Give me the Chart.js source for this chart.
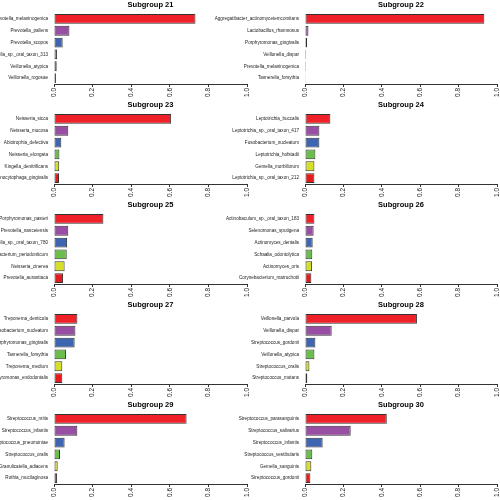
<!DOCTYPE html>
<html>
<head>
<meta charset="utf-8">
<script src="https://cdn.jsdelivr.net/npm/chart.js@4/dist/chart.umd.min.js"></script>
<style>
body{margin:0;background:#fff;}
#grid{position:relative;width:500px;height:500px;overflow:hidden;}
.panel{position:absolute;height:100px;}
</style>
</head>
<body>
<div id="grid"></div>
<script>
// subgroup ids, one panel each
const subgroups = [21,22,23,24,25,26,27,28,29,30];

// top taxa per subgroup (top to bottom) and their relative abundance
const taxa21 = ["Prevotella_melaninogenica","Prevotella_pallens","Prevotella_scopos","Veillonella_sp._oral_taxon_313","Veillonella_atypica","Veillonella_rogosae"];
const abund21 = [0.733,0.080,0.045,0.016,0.014,0.010];

const taxa22 = ["Aggregatibacter_actinomycetemcomitans","Lactobacillus_rhamnosus","Porphyromonas_gingivalis","Veillonella_dispar","Prevotella_melaninogenica","Tannerella_forsythia"];
const abund22 = [0.934,0.018,0.011,0.006,0.005,0.004];

const taxa23 = ["Neisseria_sicca","Neisseria_mucosa","Abiotrophia_defectiva","Neisseria_elongata","Kingella_denitrificans","Capnocytophaga_gingivalis"];
const abund23 = [0.607,0.074,0.038,0.028,0.027,0.026];

const taxa24 = ["Leptotrichia_buccalis","Leptotrichia_sp._oral_taxon_417","Fusobacterium_nucleatum","Leptotrichia_hofstadii","Gemella_morbillorum","Leptotrichia_sp._oral_taxon_212"];
const abund24 = [0.132,0.075,0.075,0.054,0.049,0.049];

const taxa25 = ["Porphyromonas_pasteri","Prevotella_nanceiensis","Prevotella_sp._oral_taxon_780","Fusobacterium_periodonticum","Neisseria_cinerea","Prevotella_aurantiaca"];
const abund25 = [0.256,0.074,0.068,0.066,0.055,0.047];

const taxa26 = ["Actinobaculum_sp._oral_taxon_183","Selenomonas_sputigena","Actinomyces_dentalis","Schaalia_odontolytica","Actinomyces_oris","Corynebacterium_matruchotii"];
const abund26 = [0.049,0.045,0.040,0.038,0.037,0.033];

const taxa27 = ["Treponema_denticola","Fusobacterium_nucleatum","Porphyromonas_gingivalis","Tannerella_forsythia","Treponema_medium","Porphyromonas_endodontalis"];
const abund27 = [0.121,0.111,0.107,0.062,0.043,0.043];

const taxa28 = ["Veillonella_parvula","Veillonella_dispar","Streptococcus_gordonii","Veillonella_atypica","Streptococcus_oralis","Streptococcus_mutans"];
const abund28 = [0.583,0.139,0.054,0.049,0.023,0.012];

const taxa29 = ["Streptococcus_mitis","Streptococcus_infantis","Streptococcus_pneumoniae","Streptococcus_oralis","Granulicatella_adiacens","Rothia_mucilaginosa"];
const abund29 = [0.687,0.121,0.055,0.031,0.019,0.016];

const taxa30 = ["Streptococcus_parasanguinis","Streptococcus_salivarius","Streptococcus_infantis","Streptococcus_vestibularis","Gemella_sanguinis","Streptococcus_gordonii"];
const abund30 = [0.426,0.238,0.092,0.038,0.033,0.028];

const xTicks = [0,0.2,0.4,0.6,0.8,1.0];

const allTaxa = [taxa21,taxa22,taxa23,taxa24,taxa25,taxa26,taxa27,taxa28,taxa29,taxa30];
const allAbund = [abund21,abund22,abund23,abund24,abund25,abund26,abund27,abund28,abund29,abund30];

const barColors = ["#ee2028","#984ea3","#3d65b2","#6abe4b","#d6df27","#e41a1c"];

// title centred over the plot region, like base R
const panelTitle = {
  id:"panelTitle",
  afterDraw(chart){
    const ctx = chart.ctx;
    const a = chart.chartArea;
    ctx.save();
    ctx.font = "bold 7.5px 'Liberation Sans', Arial, sans-serif";
    ctx.fillStyle = "#000";
    ctx.textAlign = "center";
    ctx.textBaseline = "middle";
    ctx.fillText(chart.options.plugins.panelTitle.text,(a.left+a.right)/2,5);
    ctx.restore();
  }
};

const grid = document.getElementById("grid");

subgroups.forEach((sg,i)=>{

// right-hand panels reach left so their long names spill over, as in R
const right = i%2 === 1;
const left = right ? 150 : 0;
const w = right ? 350 : 250;
const axisW = right ? 155 : 54;

const div = document.createElement("div");
div.className = "panel";
div.style.left = left + "px";
div.style.width = w + "px";
div.style.top = Math.floor(i/2)*100 + "px";
const cv = document.createElement("canvas");
cv.width = w;
cv.height = 100;
div.appendChild(cv);
grid.appendChild(div);

new Chart(cv,{
  type:"bar",
  data:{
    labels:allTaxa[i],
    datasets:[{
      data:allAbund[i],
      backgroundColor:barColors,
      borderColor:"#333",
      borderWidth:1,
      borderSkipped:false,
      barPercentage:1,
      categoryPercentage:0.83
    }]
  },
  options:{
    indexAxis:"y",
    responsive:false,
    animation:false,
    devicePixelRatio:1,
    layout:{padding:{top:13,left:0,right:0,bottom:0}},
    plugins:{
      legend:{display:false},
      tooltip:{enabled:false},
      panelTitle:{text:"Subgroup " + sg}
    },
    scales:{
      x:{
        min:0,
        max:1,
        afterBuildTicks(s){ s.ticks = xTicks.map(v=>({value:v})); },
        afterFit(s){ s.height = 16; s.paddingLeft = 0; s.paddingRight = 3; },
        border:{display:true,color:"#333",width:1},
        grid:{display:true,drawOnChartArea:false,drawTicks:true,tickLength:3,color:"#333"},
        ticks:{
          minRotation:90,
          maxRotation:90,
          padding:1,
          color:"#222",
          font:{size:6.5,family:"'Liberation Sans', Arial, sans-serif"},
          callback:v=>Number(v).toFixed(1)
        }
      },
      y:{
        afterFit(s){ s.width = axisW; },
        border:{display:false},
        grid:{display:false,drawTicks:false},
        ticks:{
          padding:6,
          autoSkip:false,
          color:"#222",
          font:{size:4.6,family:"'Liberation Sans', Arial, sans-serif"}
        }
      }
    }
  },
  plugins:[panelTitle]
});

});
</script>
</body>
</html>
